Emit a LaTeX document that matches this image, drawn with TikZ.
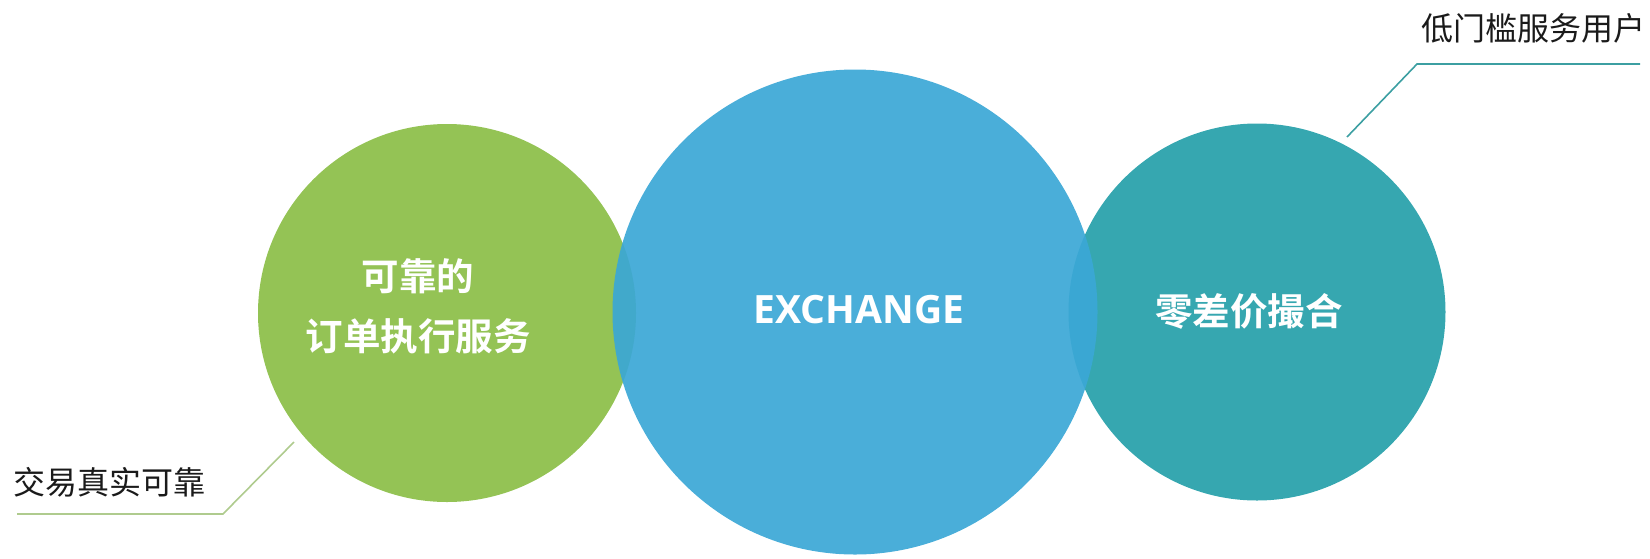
\documentclass[tikz,border=0pt]{standalone}
\usepackage{fontspec}
\newfontfamily\cjk{Noto Sans CJK SC}[BoldFont={Noto Sans CJK SC Bold}]
\newfontfamily\latinbold{Open Sans}[BoldFont={Open Sans Bold}]
\definecolor{cgreen}{HTML}{94C355}
\definecolor{cblue}{HTML}{3BA7D6}
\definecolor{cteal}{HTML}{36A7B0}
\definecolor{lgreen}{HTML}{AFCB8E}
\definecolor{lteal}{HTML}{3C9FA2}
\definecolor{txt}{HTML}{1A1A1A}
\tikzset{
  bubble/.style={circle, inner sep=0pt},
  intext/.style={inner sep=0pt, text=white, align=center},
  lbl/.style={inner sep=0pt, text=txt, font=\cjk\fontsize{32}{38}\selectfont},
  leader/.style={line width=1.6pt}
}
\begin{document}
\begin{tikzpicture}[x=1pt,y=-1pt]
\useasboundingbox (0,0) rectangle (1650,558);
\node[bubble, fill=cgreen, minimum size=378pt] (g) at (447,313) {};
\node[bubble, fill=cteal, minimum size=377pt] (t) at (1257,312) {};
\node[bubble, fill=cblue, fill opacity=0.92, minimum size=485pt] (b) at (855,312) {};
\node[intext, font=\cjk\bfseries\fontsize{37.5}{60}\selectfont] (gtext) at (418,306) {可靠的\\订单执行服务};
\node[intext, font=\cjk\bfseries\fontsize{37.5}{44}\selectfont] (ttext) at (1249,311) {零差价撮合};
\node[intext, font=\latinbold\bfseries\fontsize{39}{44}\selectfont] (btext) at (859,310) {EXCHANGE};
% left label
\coordinate (la) at (294,442);
\coordinate (lb) at (223,514);
\coordinate (lc) at (17,514);
\draw[leader, lgreen] (la) -- (lb) -- (lc);
\node[lbl, anchor=west] (ltxt) at (13,482) {交易真实可靠};
% right label
\coordinate (ra) at (1347,137);
\coordinate (rb) at (1417,64);
\coordinate (rc) at (1640,64);
\draw[leader, lteal] (ra) -- (rb) -- (rc);
\node[lbl, anchor=east] (rtxt) at (1646,28) {低门槛服务用户};
\end{tikzpicture}
\end{document}
